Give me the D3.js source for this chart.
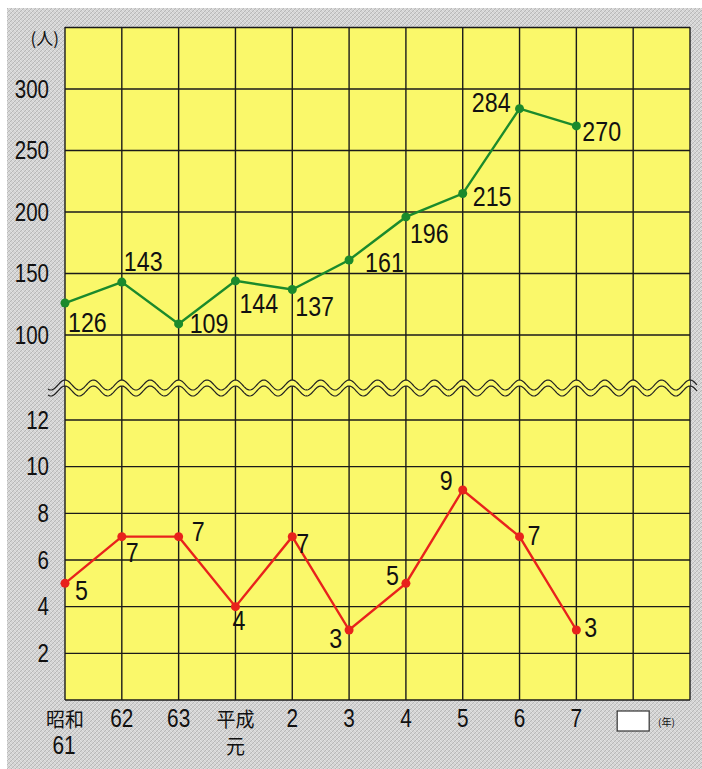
<!DOCTYPE html>
<meta charset="utf-8">
<style>
html, body {
  margin: 0;
  background: #fff;
}
svg {
  display: block;
}
text {
  font-family: "Liberation Sans", Arial, sans-serif;
  fill: #111;
}
.jp {
  font-family: "Noto Sans CJK JP", sans-serif;
}
.grid line {
  stroke: #1a1a1a;
  stroke-width: 1.4px;
}
</style>
<svg></svg>
<script src="https://d3js.org/d3.v7.min.js"></script>
<script>

// x tick labels (one entry per category, split into lines)
var tickLabels = [["昭和", "61"], ["62"], ["63"], ["平成", "元"], ["2"], ["3"], ["4"], ["5"], ["6"], ["7"]];

// upper series (people, scale 100-300) and lower series (scale 0-12)
var upperValues = [126, 143, 109, 144, 137, 161, 196, 215, 284, 270];
var lowerValues = [5, 7, 7, 4, 7, 3, 5, 9, 7, 3];

var upperTicks = [100, 150, 200, 250, 300];
var lowerTicks = [2, 4, 6, 8, 10, 12];

// where each value label sits relative to its point [dx, dy, anchor]
var upperLabelPos = [[3, 29, "start"], [2, -11, "start"], [11, 9, "start"], [4, 32, "start"],
  [3, 27, "start"], [16, 12, "start"], [4, 26, "start"], [10, 12, "start"],
  [-9, 3, "end"], [6, 15, "start"]];
var lowerLabelPos = [[10, 17, "start"], [4, 25, "start"], [13, 4, "start"], [-3, 23, "start"],
  [4, 16, "start"], [-7, 18, "end"], [-7, 2, "end"], [-10, 0, "end"],
  [8, 8, "start"], [8, 7, "start"]];

var W = 702, H = 769;
var pLeft = 65, pRight = 690, pTop = 27, pBottom = 700;
var yellow = "#faf86a";

var svg = d3.select("svg").attr("width", W).attr("height", H);

// textured grey background
var defs = svg.append("defs");
var pat = defs.append("pattern")
  .attr("id", "hatch")
  .attr("width", 4).attr("height", 4)
  .attr("patternUnits", "userSpaceOnUse");
pat.append("rect").attr("width", 4).attr("height", 4).attr("fill", "#d4d4d4");
pat.append("path").attr("d", "M0,4 L4,0 M-1,1 L1,-1 M3,5 L5,3")
  .attr("stroke", "#b8b8b8").attr("stroke-width", 1);
pat.append("path").attr("d", "M0,0 L4,4")
  .attr("stroke", "#e8e8e8").attr("stroke-width", 0.7);

defs.append("clipPath").attr("id", "plotclip")
  .append("rect").attr("x", pLeft).attr("y", pTop)
  .attr("width", pRight - pLeft).attr("height", pBottom - pTop);

svg.append("rect")
  .attr("x", 7).attr("y", 8)
  .attr("width", W - 7).attr("height", H - 8)
  .attr("fill", "url(#hatch)");

// scales
var x = d3.scaleLinear().domain([0, 11]).range([pLeft, pRight]);
var yU = d3.scaleLinear().domain([100, 300]).range([335, 89]);
var yL = d3.scaleLinear().domain([0, 12]).range([pBottom, 420]);

// plot area
svg.append("rect")
  .attr("x", pLeft).attr("y", pTop)
  .attr("width", pRight - pLeft).attr("height", pBottom - pTop)
  .attr("fill", yellow);

var grid = svg.append("g").attr("class", "grid");

grid.selectAll(".v").data(d3.range(0, 12))
  .enter().append("line")
  .attr("x1", function (d) { return x(d); })
  .attr("x2", function (d) { return x(d); })
  .attr("y1", pTop).attr("y2", pBottom);

grid.selectAll(".hu").data(upperTicks.concat([350]))
  .enter().append("line")
  .attr("x1", pLeft).attr("x2", pRight)
  .attr("y1", function (d) { return yU(d); })
  .attr("y2", function (d) { return yU(d); });

grid.selectAll(".hl").data(lowerTicks.concat([0]))
  .enter().append("line")
  .attr("x1", pLeft).attr("x2", pRight)
  .attr("y1", function (d) { return yL(d); })
  .attr("y2", function (d) { return yL(d); });

// wavy break
var period = (x(1) - x(0)) / 2;
function wave(x0, x1, yc) {
  return d3.range(x0, x1 + 0.5, 1).map(function (px) {
    return [px, yc - 5 * Math.cos((px - pLeft) / period * 2 * Math.PI)];
  });
}
var line = d3.line();
var up = wave(48, 697, 385), lo = wave(48, 697, 391);
svg.append("path")
  .attr("clip-path", "url(#plotclip)")
  .attr("d", line(up) + "L" + line(lo.slice().reverse()).slice(1) + "Z")
  .attr("fill", yellow);
[up, lo].forEach(function (p) {
  svg.append("path").attr("d", line(p))
    .attr("fill", "none").attr("stroke", "#222").attr("stroke-width", 1.2);
});

// axes labels
function yAxis(scale, ticks) {
  var g = svg.append("g")
    .attr("transform", "translate(" + pLeft + ",0)")
    .call(d3.axisLeft(scale).tickValues(ticks).tickSize(0).tickPadding(0));
  g.select(".domain").remove();
  g.selectAll("text")
    .attr("x", 0)
    .attr("transform", "translate(-16,0) scale(0.82,1)")
    .style("font-size", "25px")
    .style("font-family", "Liberation Sans, Arial, sans-serif")
    .attr("fill", "#111");
}
yAxis(yU, upperTicks);
yAxis(yL, lowerTicks);

svg.append("text").attr("class", "jp")
  .attr("x", 59).attr("y", 45)
  .attr("text-anchor", "end")
  .style("font-size", "17px")
  .text("(人)");

// x labels
var xl = svg.append("g");
tickLabels.forEach(function (lines, i) {
  lines.forEach(function (t, j) {
    var isJp = /[^0-9]/.test(t);
    xl.append("text")
      .attr("class", isJp ? "jp" : null)
      .attr("text-anchor", "middle")
      .attr("transform", "translate(" + (x(i) + (i === 0 && !isJp ? -1 : 0)) + "," + (727 + j * 27) + ") scale(" + (isJp ? 0.95 : 0.8) + ",1)")
      .style("font-size", isJp ? "20px" : "26px")
      .text(t);
  });
});

svg.append("rect")
  .attr("x", x(10) - 16).attr("y", 711)
  .attr("width", 32).attr("height", 20)
  .attr("fill", "#fff").attr("stroke", "#333").attr("stroke-width", 1.2);
svg.append("text").attr("class", "jp")
  .attr("x", 658).attr("y", 726)
  .style("font-size", "10px")
  .text("(年)");

// series
function series(values, scale, color, pos) {
  var pts = values.map(function (v, i) { return [x(i), scale(v)]; });
  svg.append("path")
    .attr("d", d3.line()(pts))
    .attr("fill", "none")
    .attr("stroke", color)
    .attr("stroke-width", 2.4);
  svg.append("g").selectAll("circle").data(pts)
    .enter().append("circle")
    .attr("cx", function (d) { return d[0]; })
    .attr("cy", function (d) { return d[1]; })
    .attr("r", 4.5)
    .attr("fill", color);
  svg.append("g").selectAll("text").data(values)
    .enter().append("text")
    .attr("text-anchor", function (d, i) { return pos[i][2]; })
    .attr("transform", function (d, i) {
      return "translate(" + (pts[i][0] + pos[i][0]) + "," + (pts[i][1] + pos[i][1]) + ") scale(0.86,1)";
    })
    .style("font-size", "27px")
    .text(function (d) { return d; });
}
series(upperValues, yU, "#1b8a2c", upperLabelPos);
series(lowerValues, yL, "#e8221c", lowerLabelPos);
</script>
